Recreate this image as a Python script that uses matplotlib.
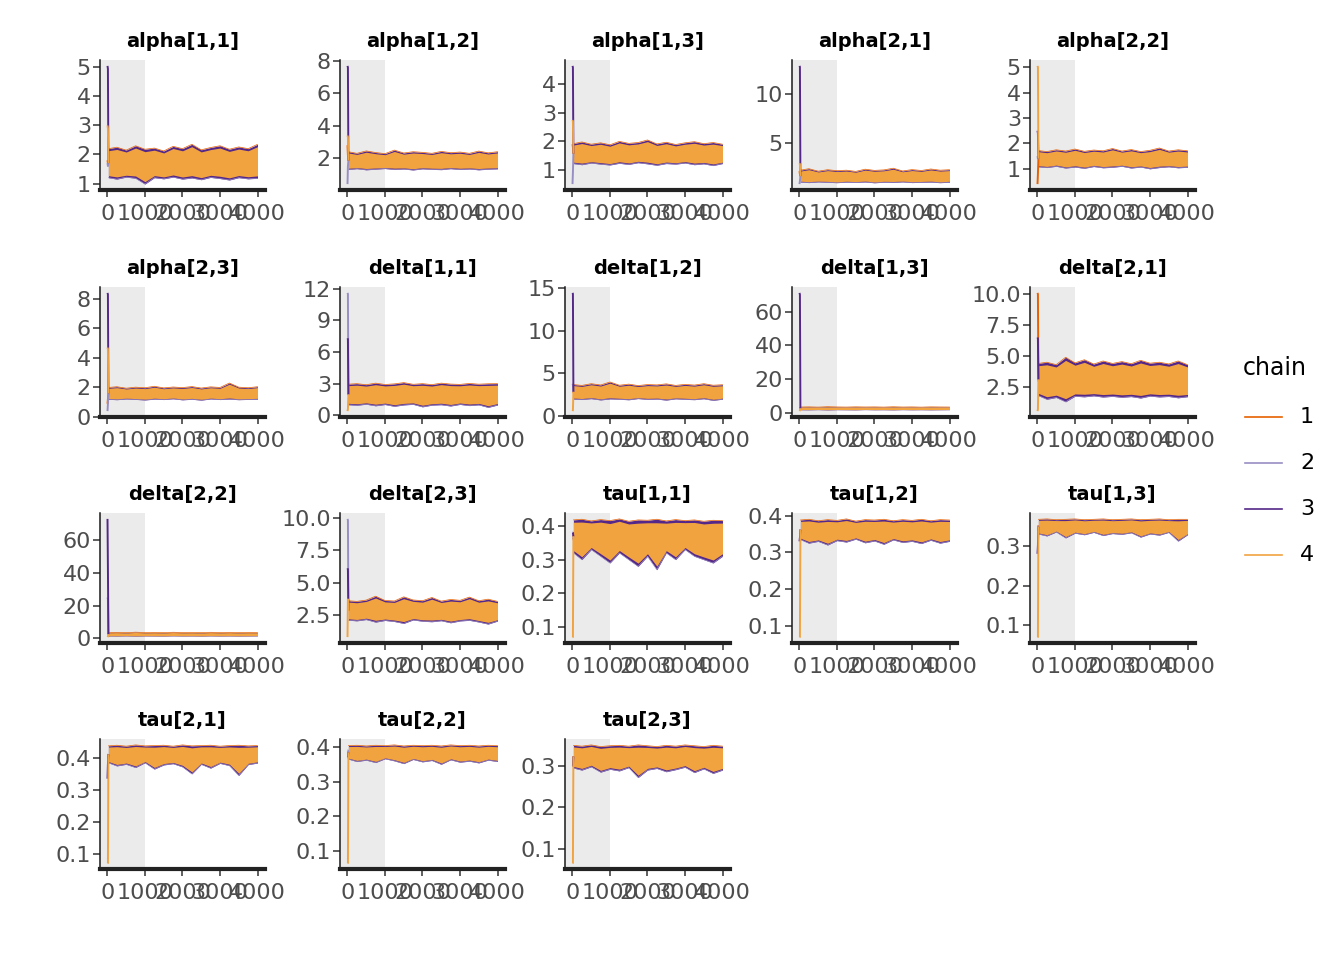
import numpy as np
import matplotlib
matplotlib.use("Agg")
import matplotlib.pyplot as plt
from matplotlib.lines import Line2D

# MCMC trace plot, 4 chains, 4000 iterations, first 1000 = warmup
params = ["alpha[1,1]", "alpha[1,2]", "alpha[1,3]", "alpha[2,1]", "alpha[2,2]",
          "alpha[2,3]", "delta[1,1]", "delta[1,2]", "delta[1,3]", "delta[2,1]",
          "delta[2,2]", "delta[2,3]", "tau[1,1]", "tau[1,2]", "tau[1,3]",
          "tau[2,1]", "tau[2,2]", "tau[2,3]"]
chains = ["1", "2", "3", "4"]
chain_colors = ["#E66101", "#998EC3", "#542788", "#F1A340"]

warmup_end = 1000
n_iter = 4000
x_ticks = [0, 1000, 2000, 3000, 4000]

env_iter = [25, 250, 500, 750, 1000, 1250, 1500, 1750, 2000,
            2250, 2500, 2750, 3000, 3250, 3500, 3750, 4000]

# first two draws of each chain (iteration 1 and ~12)
init_chain1 = [(1.8, 1.7), (2.8, 2.2), (1.9, 1.8), (2.2, 1.9), (0.4, 0.8), (0.9, 1.2),
               (2.0, 2.0), (2.8, 2.8), (2.8, 2.8), (10.1, 10.0), (2.5, 2.5), (2.9, 2.9),
               (0.37, 0.37), (0.36, 0.36), (0.35, 0.35), (0.40, 0.40), (0.38, 0.38), (0.32, 0.32)]
init_chain2 = [(1.7, 1.6), (0.4, 1.5), (0.5, 0.9), (0.9, 1.2), (1.5, 1.4), (0.4, 0.9),
               (11.6, 11.5), (3.8, 3.7), (2.6, 2.6), (3.0, 3.0), (25.0, 24.0), (9.9, 9.8),
               (0.36, 0.36), (0.35, 0.35), (0.34, 0.34), (0.41, 0.41), (0.39, 0.39), (0.31, 0.31)]
init_chain3 = [(5.05, 4.95), (7.7, 7.6), (4.65, 4.6), (12.8, 12.7), (2.5, 2.4), (8.4, 8.3),
               (7.3, 7.2), (14.4, 14.3), (71.0, 70.0), (6.5, 6.4), (73.0, 43.0), (6.1, 6.0),
               (0.38, 0.38), (0.33, 0.34), (0.28, 0.30), (0.335, 0.38), (0.37, 0.37), (0.30, 0.30)]
init_chain4 = [(3.0, 2.9), (3.4, 3.3), (2.75, 2.7), (3.0, 2.9), (5.05, 5.0), (4.7, 4.6),
               (0.4, 0.6), (0.6, 0.7), (1.1, 1.5), (0.55, 0.7), (0.8, 1.2), (0.8, 3.7),
               (0.07, 0.07), (0.07, 0.07), (0.07, 0.07), (0.07, 0.07), (0.065, 0.065), (0.065, 0.065)]

# lower / upper edge of the sampled band after the initial transient
band_lo = [
    [1.20, 1.15, 1.22, 1.18, 0.98, 1.20, 1.16, 1.22, 1.15, 1.19, 1.13, 1.21, 1.17, 1.12, 1.20, 1.16, 1.18],
    [1.30, 1.35, 1.28, 1.32, 1.36, 1.30, 1.33, 1.27, 1.34, 1.31, 1.29, 1.35, 1.30, 1.33, 1.28, 1.32, 1.34],
    [1.22, 1.18, 1.24, 1.20, 1.17, 1.23, 1.19, 1.25, 1.21, 1.16, 1.22, 1.20, 1.24, 1.18, 1.21, 1.15, 1.22],
    [1.10, 1.05, 1.12, 1.08, 1.04, 1.10, 1.07, 1.11, 1.03, 1.09, 1.06, 1.12, 1.05, 1.08, 1.10, 1.04, 1.09],
    [1.08, 1.05, 1.10, 1.03, 1.07, 1.02, 1.09, 1.04, 1.06, 1.10, 1.03, 1.07, 1.00, 1.05, 1.08, 1.04, 1.06],
    [1.20, 1.17, 1.22, 1.19, 1.15, 1.21, 1.18, 1.23, 1.16, 1.20, 1.14, 1.22, 1.18, 1.21, 1.17, 1.19, 1.20],
    [1.00, 0.95, 1.05, 0.90, 1.02, 0.85, 0.98, 1.04, 0.80, 0.96, 1.00, 0.88, 1.03, 0.92, 0.99, 0.75, 0.97],
    [2.00, 1.95, 2.05, 1.90, 2.02, 1.98, 1.92, 2.06, 1.96, 2.00, 1.88, 2.03, 1.97, 1.93, 2.04, 1.85, 1.99],
    [1.90, 1.85, 1.95, 1.80, 1.92, 1.88, 1.83, 1.96, 1.87, 1.90, 1.82, 1.94, 1.86, 1.91, 1.84, 1.89, 1.93],
    [1.80, 1.50, 1.65, 1.30, 1.75, 1.70, 1.78, 1.68, 1.74, 1.66, 1.72, 1.60, 1.76, 1.69, 1.73, 1.62, 1.71],
    [1.50, 1.45, 1.55, 1.40, 1.52, 1.48, 1.43, 1.56, 1.47, 1.50, 1.42, 1.54, 1.46, 1.51, 1.44, 1.49, 1.53],
    [2.10, 2.05, 2.15, 1.95, 2.08, 2.00, 1.85, 2.12, 2.02, 1.98, 2.06, 1.90, 2.04, 2.09, 1.96, 1.80, 2.03],
    [0.32, 0.30, 0.33, 0.31, 0.29, 0.32, 0.30, 0.28, 0.31, 0.27, 0.32, 0.30, 0.33, 0.31, 0.30, 0.29, 0.31],
    [0.335, 0.325, 0.330, 0.320, 0.332, 0.328, 0.336, 0.326, 0.331, 0.322, 0.334, 0.327, 0.330, 0.324, 0.333, 0.325, 0.330],
    [0.330, 0.325, 0.335, 0.320, 0.332, 0.328, 0.334, 0.326, 0.331, 0.329, 0.333, 0.322, 0.330, 0.327, 0.334, 0.312, 0.328],
    [0.385, 0.375, 0.380, 0.370, 0.385, 0.365, 0.378, 0.382, 0.372, 0.350, 0.380, 0.368, 0.383, 0.376, 0.345, 0.379, 0.384],
    [0.365, 0.358, 0.362, 0.355, 0.366, 0.360, 0.352, 0.364, 0.357, 0.361, 0.350, 0.363, 0.356, 0.359, 0.354, 0.362, 0.358],
    [0.295, 0.290, 0.298, 0.285, 0.292, 0.288, 0.296, 0.272, 0.290, 0.294, 0.286, 0.291, 0.297, 0.284, 0.293, 0.282, 0.290],
]
band_hi = [
    [2.20, 2.25, 2.15, 2.30, 2.18, 2.22, 2.12, 2.28, 2.20, 2.35, 2.16, 2.24, 2.30, 2.18, 2.26, 2.20, 2.35],
    [2.40, 2.30, 2.45, 2.35, 2.28, 2.50, 2.32, 2.40, 2.36, 2.30, 2.42, 2.34, 2.38, 2.30, 2.44, 2.33, 2.40],
    [1.92, 1.98, 1.90, 1.95, 1.88, 2.00, 1.93, 1.96, 2.05, 1.91, 1.97, 1.89, 1.95, 1.99, 1.92, 1.96, 1.90],
    [2.30, 2.45, 2.20, 2.35, 2.25, 2.30, 2.18, 2.40, 2.28, 2.33, 2.50, 2.22, 2.36, 2.27, 2.42, 2.30, 2.35],
    [1.72, 1.68, 1.75, 1.70, 1.78, 1.69, 1.74, 1.71, 1.80, 1.70, 1.76, 1.68, 1.73, 1.82, 1.70, 1.75, 1.71],
    [2.00, 2.05, 1.95, 2.02, 1.98, 2.08, 1.97, 2.03, 1.99, 2.06, 1.96, 2.04, 2.00, 2.30, 2.02, 1.98, 2.05],
    [2.95, 3.00, 2.90, 3.05, 2.92, 2.98, 3.10, 2.94, 3.00, 2.91, 3.05, 2.96, 2.93, 3.02, 2.95, 2.99, 3.00],
    [3.70, 3.60, 3.80, 3.65, 4.00, 3.62, 3.75, 3.58, 3.70, 3.66, 3.78, 3.60, 3.72, 3.64, 3.80, 3.62, 3.68],
    [3.50, 3.60, 3.45, 3.70, 3.55, 3.48, 3.62, 3.52, 3.58, 3.46, 3.66, 3.50, 3.57, 3.44, 3.60, 3.53, 3.49],
    [4.40, 4.50, 4.30, 4.90, 4.45, 4.70, 4.35, 4.60, 4.40, 4.55, 4.38, 4.65, 4.42, 4.50, 4.36, 4.60, 4.30],
    [3.60, 3.70, 3.50, 3.80, 3.55, 3.65, 3.52, 3.75, 3.58, 3.62, 3.50, 3.72, 3.56, 3.68, 3.54, 3.64, 3.60],
    [3.60, 3.55, 3.65, 3.95, 3.62, 3.58, 3.90, 3.66, 3.60, 3.85, 3.57, 3.70, 3.63, 3.88, 3.60, 3.72, 3.55],
    [0.418, 0.420, 0.415, 0.419, 0.416, 0.421, 0.414, 0.418, 0.417, 0.420, 0.415, 0.419, 0.416, 0.418, 0.414, 0.417, 0.416],
    [0.388, 0.390, 0.386, 0.389, 0.387, 0.391, 0.385, 0.389, 0.388, 0.390, 0.386, 0.389, 0.387, 0.390, 0.386, 0.389, 0.388],
    [0.367, 0.368, 0.366, 0.367, 0.368, 0.366, 0.367, 0.368, 0.366, 0.367, 0.368, 0.366, 0.367, 0.368, 0.366, 0.367, 0.367],
    [0.438, 0.440, 0.437, 0.441, 0.438, 0.439, 0.440, 0.437, 0.441, 0.438, 0.439, 0.440, 0.437, 0.439, 0.440, 0.438, 0.439],
    [0.404, 0.405, 0.403, 0.405, 0.404, 0.406, 0.403, 0.405, 0.404, 0.405, 0.403, 0.406, 0.404, 0.405, 0.403, 0.405, 0.404],
    [0.350, 0.348, 0.351, 0.347, 0.349, 0.350, 0.348, 0.351, 0.349, 0.347, 0.350, 0.348, 0.351, 0.349, 0.347, 0.350, 0.348],
]

ytick_labels = [
    ["1", "2", "3", "4", "5"], ["2", "4", "6", "8"], ["1", "2", "3", "4"],
    ["5", "10"], ["1", "2", "3", "4", "5"], ["0", "2", "4", "6", "8"],
    ["0", "3", "6", "9", "12"], ["0", "5", "10", "15"], ["0", "20", "40", "60"],
    ["2.5", "5.0", "7.5", "10.0"], ["0", "20", "40", "60"], ["2.5", "5.0", "7.5", "10.0"],
    ["0.1", "0.2", "0.3", "0.4"], ["0.1", "0.2", "0.3", "0.4"], ["0.1", "0.2", "0.3"],
    ["0.1", "0.2", "0.3", "0.4"], ["0.1", "0.2", "0.3", "0.4"], ["0.1", "0.2", "0.3"],
]

# ---- layout (pixels) ----
W, H = 1344, 960
col_left = [100, 340, 565, 792, 1030]
row_top = [60, 287, 513, 739]
pw, ph = 165, 130
core_inset = 0.07   # how much of the band edge shows the other chains

fig = plt.figure(figsize=(W / 100, H / 100), dpi=100)
fig.patch.set_facecolor("white")

for k, name in enumerate(params):
    r, c = divmod(k, 5)
    ax = fig.add_axes([col_left[c] / W, 1 - (row_top[r] + ph) / H, pw / W, ph / H])

    lo = np.array(band_lo[k])
    hi = np.array(band_hi[k])
    inits = [init_chain1[k], init_chain2[k], init_chain3[k], init_chain4[k]]
    allv = np.concatenate([lo, hi, np.ravel(inits)])
    ymin, ymax = allv.min(), allv.max()
    pad = 0.05 * (ymax - ymin)
    xpad = 0.05 * (n_iter - 1)
    ax.set_xlim(1 - xpad, n_iter + xpad)
    ax.set_ylim(ymin - pad, ymax + pad)

    # warmup shading
    ax.axvspan(1 - xpad, warmup_end, color="#EBEBEB", lw=0, zorder=0)

    # band: other chains at the edges, chain 4 on top in the middle
    ax.fill_between(env_iter, lo, hi, color=chain_colors[2], lw=0, zorder=1)
    ax.plot(env_iter, lo, color=chain_colors[1], lw=0.5, zorder=1.5)
    ax.plot(env_iter, hi, color=chain_colors[0], lw=0.5, zorder=1.5)
    gap = core_inset * (hi - lo)
    ax.fill_between(env_iter, lo + gap, hi - gap, color=chain_colors[3], lw=0, zorder=2)

    # initial transient of each chain
    mid = (lo[0] + hi[0]) / 2
    for j, (a, b) in enumerate(inits):
        ax.plot([1, 12, env_iter[0]], [a, b, mid], color=chain_colors[j],
                lw=1.4, zorder=3, solid_capstyle="butt")

    ax.set_xticks(x_ticks)
    ax.set_xticklabels([str(t) for t in x_ticks])
    ax.set_yticks([float(s) for s in ytick_labels[k]])
    ax.set_yticklabels(ytick_labels[k])

    for s in ["top", "right"]:
        ax.spines[s].set_visible(False)
    ax.spines["left"].set_linewidth(1.1)
    ax.spines["left"].set_color("#1A1A1A")
    ax.spines["bottom"].set_linewidth(3.0)
    ax.spines["bottom"].set_color("#222222")
    ax.tick_params(length=5, width=1.1, color="#333333",
                   labelsize=16, labelcolor="#4D4D4D")
    ax.tick_params(axis="x", pad=5)
    ax.tick_params(axis="y", pad=1.5)

    ax.annotate(name, xy=(0.5, 1), xycoords="axes fraction",
                xytext=(0, 9.5), textcoords="offset points",
                ha="center", va="baseline", fontsize=14, fontweight="bold")

# legend
fig.text(1275 / W, 1 - 368 / H, "chain", ha="center", va="center", fontsize=17)
for j, lab in enumerate(chains):
    y = 1 - (417 + 46 * j) / H
    fig.add_artist(Line2D([1245 / W, 1282 / W], [y, y], color=chain_colors[j], lw=1.2))
    fig.text(1307 / W, y, lab, ha="center", va="center", fontsize=16)

fig.savefig("out.png", dpi=100)
